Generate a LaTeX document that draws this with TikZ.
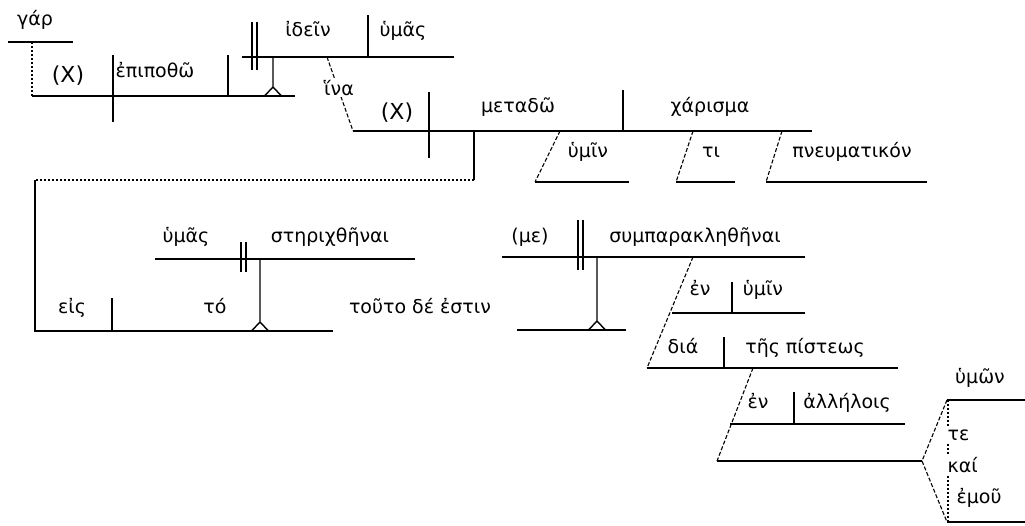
\documentclass[tikz,border=0pt]{standalone}
\usepackage{fontspec}
\setmainfont{DejaVu Sans}
\usepackage{tikz}
\usetikzlibrary{positioning,calc}
\newcommand{\pedestal}[3]{\draw (#1,#2) -- (#1,{#3-9}) ({#1-8.5},#3) -- (#1,{#3-9}) -- ({#1+8.5},#3);}

\begin{document}
\begin{tikzpicture}[x=1pt,y=-1pt,line width=1.4pt,
      word/.style={inner sep=0pt, anchor=base, font=\fontsize{19}{22}\selectfont},
      bigword/.style={word, font=\fontsize{22}{24}\selectfont},
      gap/.style={word, fill=white, inner sep=2pt},
      link/.style={line width=1.1pt, dash pattern=on 4pt off 2pt},
      dots/.style={line width=1.3pt, dash pattern=on 2pt off 2pt}]
     \useasboundingbox (0,0) rectangle (1025,525);
     % first clause
     \draw (8,42) -- (73,42);
     \draw[dots] (32,42) -- (32,96);
     \draw (32,96) -- (295,96) (113,55) -- (113,122) (228,55) -- (228,96);
     \draw (242,57) -- (454,57) (368,15) -- (368,57);
     \draw (252,22) -- (252,70) (257,22) -- (257,70);
     \pedestal{273}{57}{96}
     \node[word] (gar) at (35,25) {γάρ};
     \node[bigword] (subj1) at (68,82) {(X)};
     \node[word] (epipotho) at (155,77) {ἐπιποθῶ};
     \node[word] (idein) at (308,36) {ἰδεῖν};
     \node[word] (humas1) at (403,36) {ὑμᾶς};
     % purpose clause
     \draw[link] (327,57) -- (353,131);
     \node[gap] (hina) at (339,95) {ἵνα};
     \draw (353,131) -- (812,131) (429,92) -- (429,158) (623,90) -- (623,131);
     \draw[link] (560,131) -- (535,182);
     \draw (535,182) -- (629,182);
     \draw[link] (693,131) -- (676,182);
     \draw (676,182) -- (735,182);
     \draw[link] (782,131) -- (766,182);
     \draw (766,182) -- (927,182);
     \node[bigword] (subj2) at (397,119) {(X)};
     \node[word] (metado) at (518,112) {μεταδῶ};
     \node[word] (charisma) at (710,112) {χάρισμα};
     \node[word] (humin1) at (588,157) {ὑμῖν};
     \node[word] (ti) at (711,157) {τι};
     \node[word] (pneumatikon) at (852,157) {πνευματικόν};
     % eis to sterichthenai
     \draw (474,131) -- (474,180);
     \draw[dots] (474,180) -- (35,180);
     \draw (35,180) -- (35,331) -- (333,331) (112,298) -- (112,331);
     \draw (155,259) -- (415,259) (241,242) -- (241,272) (246,242) -- (246,272);
     \pedestal{260}{259}{331}
     \node[word] (eis) at (72,313) {εἰς};
     \node[word] (to) at (215,313) {τό};
     \node[word] (humas2) at (186,242) {ὑμᾶς};
     \node[word] (sterichthenai) at (330,242) {στηριχθῆναι};
     \node[word] (touto) at (420,313) {τοῦτο δέ ἐστιν};
     % sumparaklethenai
     \draw (502,257) -- (805,257) (578,220) -- (578,270) (583,220) -- (583,270);
     \draw (517,330) -- (626,330);
     \pedestal{597}{257}{330}
     \draw[link] (693,257) -- (647,368);
     \draw (672,313) -- (805,313) (732,282) -- (732,313);
     \draw (647,368) -- (898,368) (724,337) -- (724,368);
     \draw[link] (753,368) -- (717,461);
     \draw (730,424) -- (905,424) (794,392) -- (794,424);
     \draw (717,461) -- (922,461);
     \draw[link] (947,400) -- (922,461) -- (947,522);
     \draw (947,400) -- (1025,400) (947,522) -- (1025,522);
     \draw[dots] (948,400) -- (948,522);
     \node[word] (me) at (530,242) {(με)};
     \node[word] (sumparaklethenai) at (695,242) {συμπαρακληθῆναι};
     \node[word] (en1) at (700,295) {ἐν};
     \node[word] (humin2) at (763,295) {ὑμῖν};
     \node[word] (dia) at (683,353) {διά};
     \node[word] (pisteos) at (805,353) {τῆς πίστεως};
     \node[word] (en2) at (758,408) {ἐν};
     \node[word] (allelois) at (847,408) {ἀλλήλοις};
     \node[word] (humon) at (980,383) {ὑμῶν};
     \node[gap, anchor=base west] (te) at (945,440) {τε};
     \node[gap, anchor=base west] (kai) at (945,472) {καί};
     \node[word] (emou) at (979,503) {ἐμοῦ};
    \end{tikzpicture}
\end{document}
